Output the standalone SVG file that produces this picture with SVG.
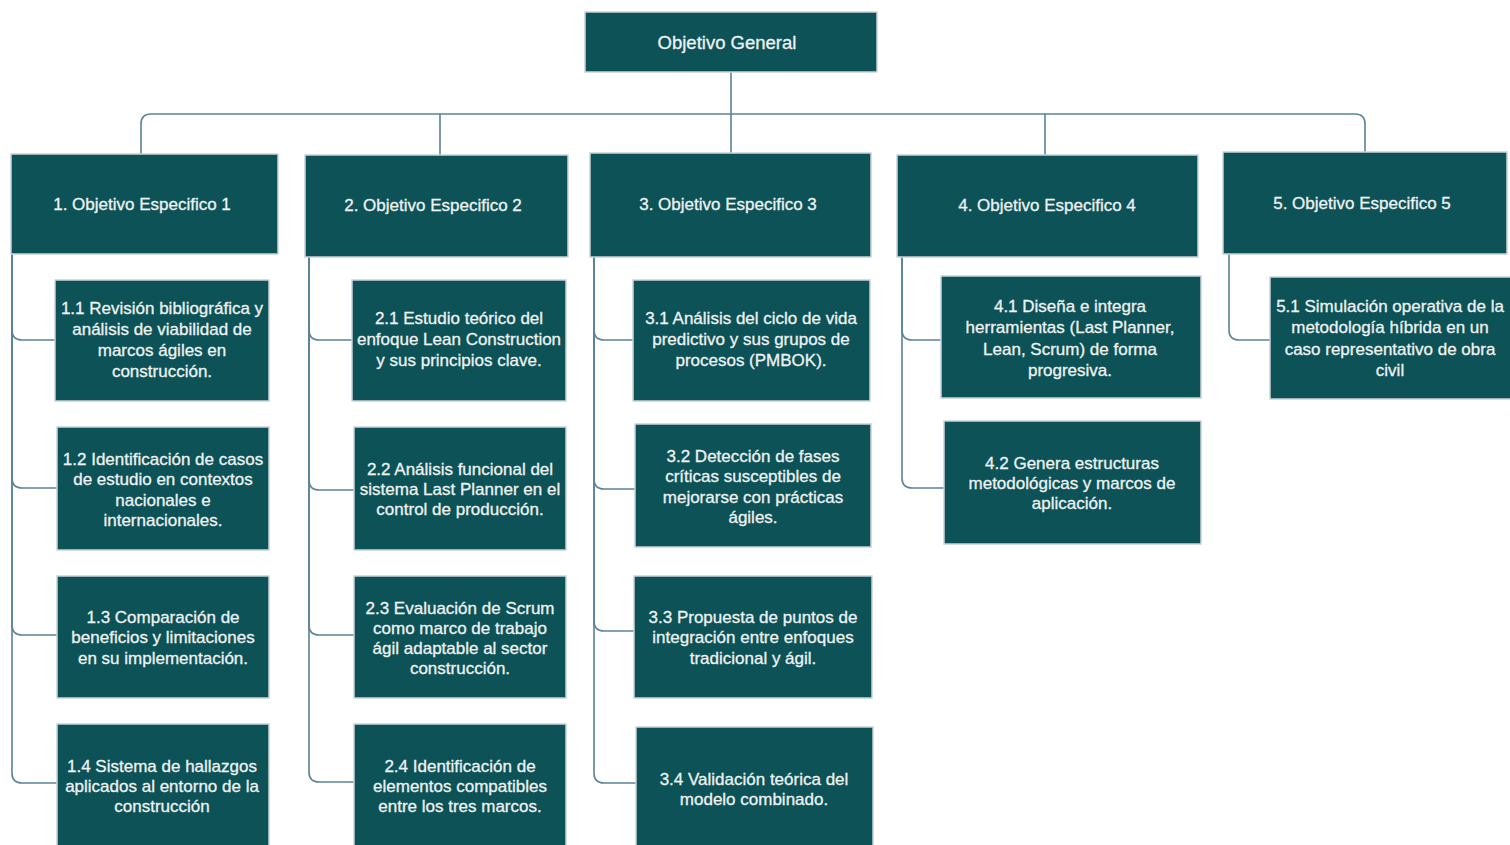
<svg xmlns="http://www.w3.org/2000/svg" width="1510" height="845" viewBox="0 0 1510 845">
  <style>
    .box { fill: #0d5257; stroke: #c9d4da; stroke-width: 1.5; }
    .lbl { font-family: "Liberation Sans", Arial, sans-serif; font-size: 17px; fill: #eef2f2; stroke: #eef2f2; stroke-width: 0.3; text-anchor: middle; }
    .top { font-size: 18.5px; }
    .wire { fill: none; stroke: #5b8399; stroke-width: 1.6; }
  </style>
  <rect width="1510" height="845" fill="#ffffff"/>

  <!-- connectors -->
  <g id="connectors" class="wire">
    <path d="M731 72 V153"/>
    <path d="M141 154 V124 Q141 114 151 114 H1355 Q1365 114 1365 124 V152"/>
    <path d="M440 114 V155"/>
    <path d="M1045 114 V155"/>
    <!-- column 1 -->
    <path d="M12 254 V330 Q12 340 22 340 H55"/>
    <path d="M12 254 V478 Q12 488 22 488 H57"/>
    <path d="M12 254 V625 Q12 635 22 635 H57"/>
    <path d="M12 254 V773 Q12 783 22 783 H57"/>
    <!-- column 2 -->
    <path d="M309 257 V330 Q309 340 319 340 H352"/>
    <path d="M309 257 V480 Q309 490 319 490 H354"/>
    <path d="M309 257 V625 Q309 635 319 635 H354"/>
    <path d="M309 257 V772 Q309 782 319 782 H354"/>
    <!-- column 3 -->
    <path d="M594 257 V330 Q594 340 604 340 H633"/>
    <path d="M594 257 V479 Q594 489 604 489 H635"/>
    <path d="M594 257 V621 Q594 631 604 631 H634"/>
    <path d="M594 257 V773 Q594 783 604 783 H636"/>
    <!-- column 4 -->
    <path d="M902 257 V330 Q902 340 912 340 H941"/>
    <path d="M902 257 V478 Q902 488 912 488 H944"/>
    <!-- column 5 -->
    <path d="M1229 254 V330 Q1229 340 1239 340 H1270"/>
  </g>

  <g id="general">
    <rect class="box" x="585" y="12" width="292" height="60"/>
    <text class="lbl top" x="727" y="49">Objetivo General</text>
  </g>

  <g id="oe1">
    <rect class="box" x="11" y="154" width="267" height="100"/>
    <text class="lbl" x="142" y="210">1. Objetivo Especifico 1</text>
  </g>
  <g id="oe2">
    <rect class="box" x="305" y="155" width="263" height="102"/>
    <text class="lbl" x="433" y="211">2. Objetivo Especifico 2</text>
  </g>
  <g id="oe3">
    <rect class="box" x="590" y="153" width="281" height="104"/>
    <text class="lbl" x="728" y="210">3. Objetivo Especifico 3</text>
  </g>
  <g id="oe4">
    <rect class="box" x="897" y="155" width="301" height="102"/>
    <text class="lbl" x="1047" y="211">4. Objetivo Especifico 4</text>
  </g>
  <g id="oe5">
    <rect class="box" x="1223" y="152" width="284" height="102"/>
    <text class="lbl" x="1362" y="209">5. Objetivo Especifico 5</text>
  </g>

  <g id="a1-1">
    <rect class="box" x="55" y="280" width="214" height="121"/>
    <text class="lbl" x="162" y="314">1.1 Revisión bibliográfica y</text>
    <text class="lbl" x="162" y="335">análisis de viabilidad de</text>
    <text class="lbl" x="162" y="356">marcos ágiles en</text>
    <text class="lbl" x="162" y="377">construcción.</text>
  </g>
  <g id="a1-2">
    <rect class="box" x="57" y="427" width="212" height="123"/>
    <text class="lbl" x="163" y="465">1.2 Identificación de casos</text>
    <text class="lbl" x="163" y="485">de estudio en contextos</text>
    <text class="lbl" x="163" y="506">nacionales e</text>
    <text class="lbl" x="163" y="526">internacionales.</text>
  </g>
  <g id="a1-3">
    <rect class="box" x="57" y="576" width="212" height="122"/>
    <text class="lbl" x="163" y="623">1.3 Comparación de</text>
    <text class="lbl" x="163" y="643">beneficios y limitaciones</text>
    <text class="lbl" x="163" y="664">en su implementación.</text>
  </g>
  <g id="a1-4">
    <rect class="box" x="57" y="724" width="212" height="130"/>
    <text class="lbl" x="162" y="772">1.4 Sistema de hallazgos</text>
    <text class="lbl" x="162" y="792">aplicados al entorno de la</text>
    <text class="lbl" x="162" y="812">construcción</text>
  </g>

  <g id="a2-1">
    <rect class="box" x="352" y="280" width="214" height="121"/>
    <text class="lbl" x="459" y="324">2.1 Estudio teórico del</text>
    <text class="lbl" x="459" y="345">enfoque Lean Construction</text>
    <text class="lbl" x="459" y="366">y sus principios clave.</text>
  </g>
  <g id="a2-2">
    <rect class="box" x="354" y="427" width="212" height="123"/>
    <text class="lbl" x="460" y="475">2.2 Análisis funcional del</text>
    <text class="lbl" x="460" y="495">sistema Last Planner en el</text>
    <text class="lbl" x="460" y="515">control de producción.</text>
  </g>
  <g id="a2-3">
    <rect class="box" x="354" y="576" width="212" height="122"/>
    <text class="lbl" x="460" y="614">2.3 Evaluación de Scrum</text>
    <text class="lbl" x="460" y="634">como marco de trabajo</text>
    <text class="lbl" x="460" y="654">ágil adaptable al sector</text>
    <text class="lbl" x="460" y="674">construcción.</text>
  </g>
  <g id="a2-4">
    <rect class="box" x="354" y="724" width="212" height="130"/>
    <text class="lbl" x="460" y="772">2.4 Identificación de</text>
    <text class="lbl" x="460" y="792">elementos compatibles</text>
    <text class="lbl" x="460" y="812">entre los tres marcos.</text>
  </g>

  <g id="a3-1">
    <rect class="box" x="633" y="280" width="237" height="121"/>
    <text class="lbl" x="751" y="324">3.1 Análisis del ciclo de vida</text>
    <text class="lbl" x="751" y="345">predictivo y sus grupos de</text>
    <text class="lbl" x="751" y="366">procesos (PMBOK).</text>
  </g>
  <g id="a3-2">
    <rect class="box" x="635" y="424" width="236" height="123"/>
    <text class="lbl" x="753" y="462">3.2 Detección de fases</text>
    <text class="lbl" x="753" y="482">críticas susceptibles de</text>
    <text class="lbl" x="753" y="503">mejorarse con prácticas</text>
    <text class="lbl" x="753" y="523">ágiles.</text>
  </g>
  <g id="a3-3">
    <rect class="box" x="634" y="576" width="238" height="122"/>
    <text class="lbl" x="753" y="623">3.3 Propuesta de puntos de</text>
    <text class="lbl" x="753" y="643">integración entre enfoques</text>
    <text class="lbl" x="753" y="664">tradicional y ágil.</text>
  </g>
  <g id="a3-4">
    <rect class="box" x="636" y="727" width="237" height="127"/>
    <text class="lbl" x="754" y="785">3.4 Validación teórica del</text>
    <text class="lbl" x="754" y="805">modelo combinado.</text>
  </g>

  <g id="a4-1">
    <rect class="box" x="941" y="276" width="260" height="122"/>
    <text class="lbl" x="1070" y="312">4.1 Diseña e integra</text>
    <text class="lbl" x="1070" y="333">herramientas (Last Planner,</text>
    <text class="lbl" x="1070" y="355">Lean, Scrum) de forma</text>
    <text class="lbl" x="1070" y="376">progresiva.</text>
  </g>
  <g id="a4-2">
    <rect class="box" x="944" y="421" width="257" height="123"/>
    <text class="lbl" x="1072" y="469">4.2 Genera estructuras</text>
    <text class="lbl" x="1072" y="489">metodológicas y marcos de</text>
    <text class="lbl" x="1072" y="509">aplicación.</text>
  </g>

  <g id="a5-1">
    <rect class="box" x="1270" y="277" width="244" height="122"/>
    <text class="lbl" x="1390" y="312">5.1 Simulación operativa de la</text>
    <text class="lbl" x="1390" y="333">metodología híbrida en un</text>
    <text class="lbl" x="1390" y="355">caso representativo de obra</text>
    <text class="lbl" x="1390" y="376">civil</text>
  </g>
</svg>
